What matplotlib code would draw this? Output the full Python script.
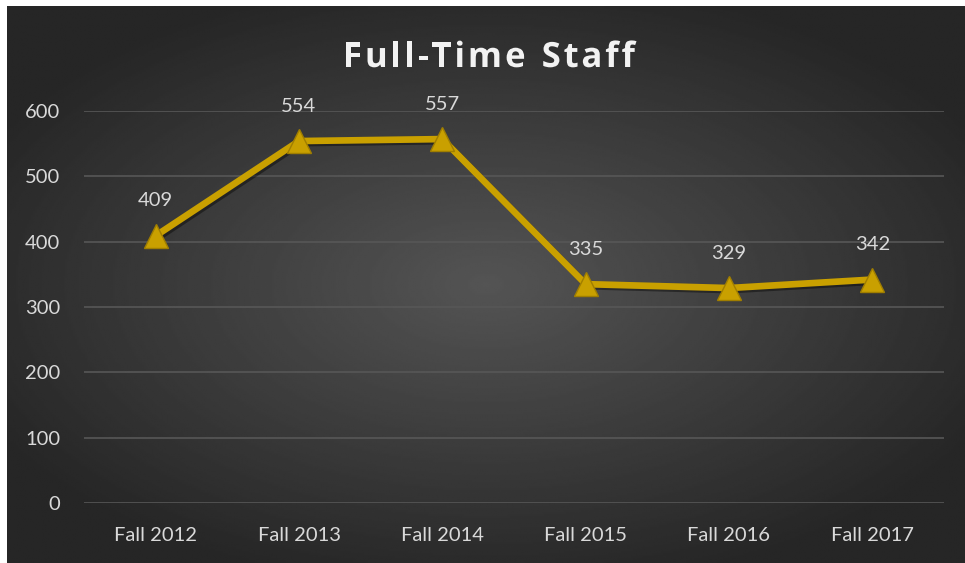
import numpy as np
import matplotlib

matplotlib.use("Agg")
import matplotlib.pyplot as plt
import matplotlib.patheffects as pe

# data
terms = ["Fall 2012", "Fall 2013", "Fall 2014", "Fall 2015", "Fall 2016", "Fall 2017"]
staff = [409, 554, 557, 335, 329, 342]
y_ticks = [0, 100, 200, 300, 400, 500, 600]
title = "Full-Time Staff"

GOLD = "#C9A000"
TEXT = "#D9D9D9"

plt.rcParams["font.family"] = ["Lato", "DejaVu Sans"]

fig = plt.figure(figsize=(9.65, 5.63), dpi=100)
fig.patch.set_facecolor("white")

# dark radial-gradient backdrop
bg = fig.add_axes([7 / 965, 0, 1 - 7 / 965, 557 / 563])
bg.set_axis_off()
yy, xx = np.mgrid[-1:1:300j, -1:1:500j]
r = np.sqrt((xx * 0.9) ** 2 + (yy * 0.95) ** 2)
shade = np.clip(0.33 - 0.17 * r, 0.15, 0.33)
bg.imshow(shade, cmap="gray", vmin=0, vmax=1, aspect="auto",
          extent=[0, 1, 0, 1], interpolation="bilinear")
bg.set_xlim(0, 1)
bg.set_ylim(0, 1)

ax = fig.add_axes([84 / 965, 60 / 563, 860 / 965, 392 / 563])
ax.patch.set_alpha(0)
x = np.arange(len(terms))
ax.plot(x, staff, color=GOLD, lw=4.8, solid_joinstyle="miter", zorder=3,
        path_effects=[pe.SimpleLineShadow(offset=(1.5, -1.5), alpha=0.4), pe.Normal()])
ax.plot(x, staff, ls="none", marker="^", ms=17, mfc=GOLD, mec="#A07E00",
        mew=1.0, zorder=4)
for xi, v in zip(x, staff):
    ax.annotate(str(v), (xi, v), xytext=(0, 19), textcoords="offset points",
                ha="center", va="bottom", color=TEXT, fontsize=14.5)

ax.set_xlim(-0.5, len(terms) - 0.5)
ax.set_ylim(0, 600)
ax.set_yticks(y_ticks)
ax.set_xticks(x)
ax.set_xticklabels(terms)
ax.grid(axis="y", color="#575757", lw=1.2)
ax.set_axisbelow(True)
for s in ax.spines.values():
    s.set_visible(False)
ax.tick_params(length=0, colors=TEXT, labelsize=14.5)
ax.tick_params(axis="y", pad=17)
ax.tick_params(axis="x", pad=17)

# letter-spaced title, laid out char by char
renderer = fig.canvas.get_renderer()
tkw = dict(color="#F2F2F2", fontsize=25, fontweight="bold", family="Open Sans",
           va="baseline", ha="left",
           path_effects=[pe.SimpleLineShadow(offset=(1.5, -1.5), alpha=0.5), pe.Normal()])
target_w = 292
widths = []
for ch in title:
    t = fig.text(0, 0, ch if ch != " " else "a", **tkw)
    widths.append(t.get_window_extent(renderer).width * (0.5 if ch == " " else 1))
    t.remove()
track = (target_w - sum(widths)) / (len(title) - 1)
px = 489 - target_w / 2
for ch, w in zip(title, widths):
    if ch != " ":
        fig.text(px / 965, 1 - 67 / 563, ch, **tkw)
    px += w + track

fig.savefig("out.png", dpi=100)
